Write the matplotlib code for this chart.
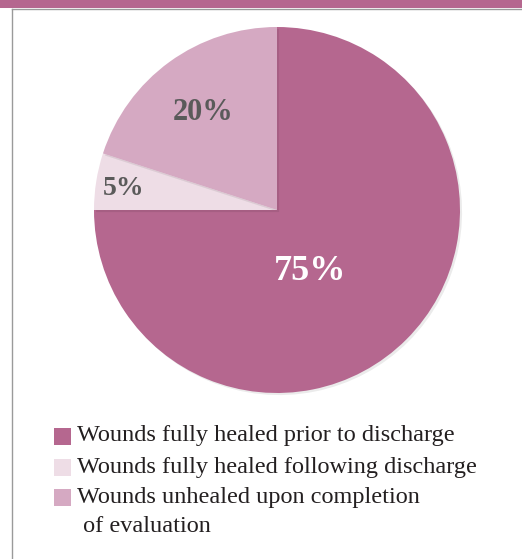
import numpy as np
import matplotlib.pyplot as plt
import matplotlib.patheffects as pe
from matplotlib.patches import Rectangle
from matplotlib.lines import Line2D

labels = ["Wounds fully healed prior to discharge",
          "Wounds fully healed following discharge",
          "Wounds unhealed upon completion\n of evaluation"]
values = [75, 5, 20]
colors = ["#B5678F", "#EEDDE6", "#D5A9C2"]
text_colors = ["white", "#5A5A5A", "#5A5A5A"]
font_sizes = [26, 20, 22]
# label placement (angle in degrees, radius as fraction of pie radius)
label_pos = [(-62, 0.38), (172, 0.845), (127, 0.667)]

plt.rcParams['font.family'] = ['Liberation Serif', 'DejaVu Serif']

fig = plt.figure(figsize=(5.22, 5.59), dpi=100)
W, H = 522, 559

# header band and frame
fig.add_artist(Rectangle((0, 1 - 8 / H), 1, 8 / H, transform=fig.transFigure,
                         color="#B5678F", lw=0))
fig.add_artist(Line2D([12 / W, 1], [1 - 8.5 / H, 1 - 8.5 / H], transform=fig.transFigure,
                      color="#9A9A9A", lw=1))
fig.add_artist(Line2D([12 / W, 12 / W], [0, 1 - 8.5 / H], transform=fig.transFigure,
                      color="#9A9A9A", lw=1))

cx, cy, r = 277, 210, 183
ax = fig.add_axes([(cx - r) / W, (H - cy - r) / H, 2 * r / W, 2 * r / H])
wedges, _ = ax.pie(values, colors=colors, startangle=90, counterclock=False,
                   radius=1, wedgeprops=dict(linewidth=0))
for w in wedges:
    w.set_path_effects([pe.SimplePatchShadow(offset=(1.5, -1.5), shadow_rgbFace="#000000",
                                             alpha=0.08), pe.Normal()])

for v, (ang, rr), tc, fs in zip(values, label_pos, text_colors, font_sizes):
    a = np.deg2rad(ang)
    ax.text(rr * np.cos(a), rr * np.sin(a), f"{v}%", ha="center", va="center",
            fontsize=fs, fontweight="bold", color=tc)
ax.set_xlim(-1, 1)
ax.set_ylim(-1, 1)
ax.set_aspect("equal")
ax.axis("off")

# legend
rows = [436, 467, 497]
for lab, col, y in zip(labels, colors, rows):
    fig.add_artist(Rectangle((54 / W, 1 - (y + 8.5) / H), 17 / W, 17 / H,
                             transform=fig.transFigure, color=col, lw=0))
    for i, ln in enumerate(lab.split("\n")):
        fig.text(77 / W, 1 - (y + i * 29) / H, ln, fontsize=17.5,
                 color="#231F20", va="center")

fig.savefig("out.png", dpi=100)
